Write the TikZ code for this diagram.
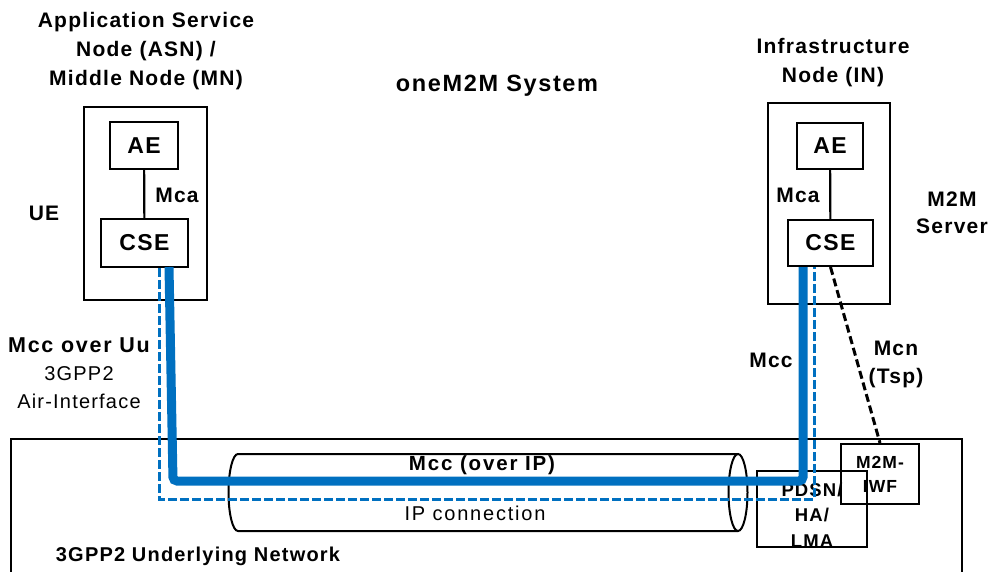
\documentclass[tikz,border=0pt]{standalone}
\usepackage{fontspec}
\setmainfont{Liberation Sans}[LetterSpace=6]
\definecolor{mccblue}{RGB}{0,112,192}
\begin{document}
\begin{tikzpicture}[x=1pt,y=-1pt,
    lbl/.style={font=\fontsize{21}{29}\selectfont\bfseries,align=center},
    txt/.style={font=\fontsize{20}{28}\selectfont,align=center},
    ent/.style={draw,line width=2pt,font=\fontsize{23}{28}\selectfont\bfseries},
    frame/.style={draw,line width=2pt},
    small/.style={font=\fontsize{18.5}{25.5}\selectfont\bfseries,align=center},
    mcc/.style={mccblue,line width=9pt,rounded corners=4pt},
    ipline/.style={mccblue,line width=3pt,dash pattern=on 9pt off 3pt},
    mcn/.style={line width=3pt,dash pattern=on 8pt off 4pt}]
\useasboundingbox (0,0) rectangle (988,572);
% nodes
\node[frame,minimum width=123,minimum height=193] (asnBox) at (145.5,203.5) {};
\node[frame,minimum width=122,minimum height=201] (inBox) at (829,203.5) {};
\node[ent,minimum width=68,minimum height=47] (aeL) at (144,145.5) {AE};
\node[ent,minimum width=87,minimum height=48] (cseL) at (144.5,243) {CSE};
\node[ent,minimum width=66,minimum height=46] (aeR) at (830,146) {AE};
\node[ent,minimum width=85,minimum height=46] (cseR) at (830.5,243) {CSE};
\node[lbl] (asnTitle) at (146,51) {Application Service\\Node (ASN) /\\Middle Node (MN)};
\node[lbl] (inTitle) at (833,63) {Infrastructure\\Node (IN)};
\node[lbl,font=\fontsize{23.5}{29}\selectfont\bfseries\addfontfeature{LetterSpace=7}] (system) at (497,86) {oneM2M System};
\node[lbl] (ue) at (44,213) {UE};
\node[lbl] (mcaL) at (177,195) {Mca};
\node[lbl] (mcaR) at (798,195) {Mca};
\node[lbl,font=\fontsize{21}{27}\selectfont\bfseries] (server) at (952,213) {M2M\\Server};
\node[txt] (uu) at (79,373.5) {{\fontsize{21.5}{28}\selectfont\bfseries\addfontfeature{LetterSpace=8}Mcc over Uu}\\3GPP2\\Air-Interface};
\node[lbl] (mccR) at (771,360) {Mcc};
\node[lbl,font=\fontsize{21}{28}\selectfont\bfseries] (mcnLbl) at (896,364) {Mcn\\(Tsp)};
% underlying network
\draw[frame] (11,580) -- (11,439) -- (962,439) -- (962,580);
\node[lbl,font=\fontsize{20}{24}\selectfont\bfseries] (net) at (198,556) {3GPP2 Underlying Network};
\draw[line width=2pt] (738,454) -- (238,454)
    arc[start angle=270,end angle=90,x radius=9.5,y radius=38.5] -- (738,531);
\draw[line width=2pt] (738,492.5) ellipse[x radius=9.5,y radius=38.5];
\node[lbl,font=\fontsize{20.5}{24}\selectfont\bfseries\addfontfeature{LetterSpace=9}] (overIP) at (482,465) {Mcc (over IP)};
\node[txt,font=\fontsize{20}{24}\selectfont\addfontfeature{LetterSpace=9}] (ipConn) at (475,513) {IP connection};
\node[frame,minimum width=110,minimum height=76] (pdsn) at (812,509) {};
\node[small] (pdsnTxt) at ([yshift=-6pt]pdsn.center) {PDSN/\\HA/\\LMA};
\node[frame,small,font=\fontsize{17.5}{24}\selectfont\bfseries,minimum width=78,minimum height=60] (iwf) at (880,474) {M2M-\\IWF};
% connectors
\coordinate (bendL) at (173,481);
\coordinate (bendR) at (803,481);
\coordinate (ipL) at (159,499);
\coordinate (ipR) at (814,499);
\draw[line width=2.2pt] (aeL) -- (cseL);
\draw[line width=2.2pt] (aeR) -- (cseR);
\draw[ipline] ([xshift=14.5pt]cseL.south) -- (ipL) -- (ipR) -- ([xshift=-16.5pt]cseR.south);
\draw[mcc] ([xshift=24.5pt,yshift=1pt]cseL.south) -- (bendL) -- (bendR) -- ([xshift=-27.5pt]cseR.south);
\draw[mcn] (cseR.south) -- (iwf.north);
\end{tikzpicture}
\end{document}
